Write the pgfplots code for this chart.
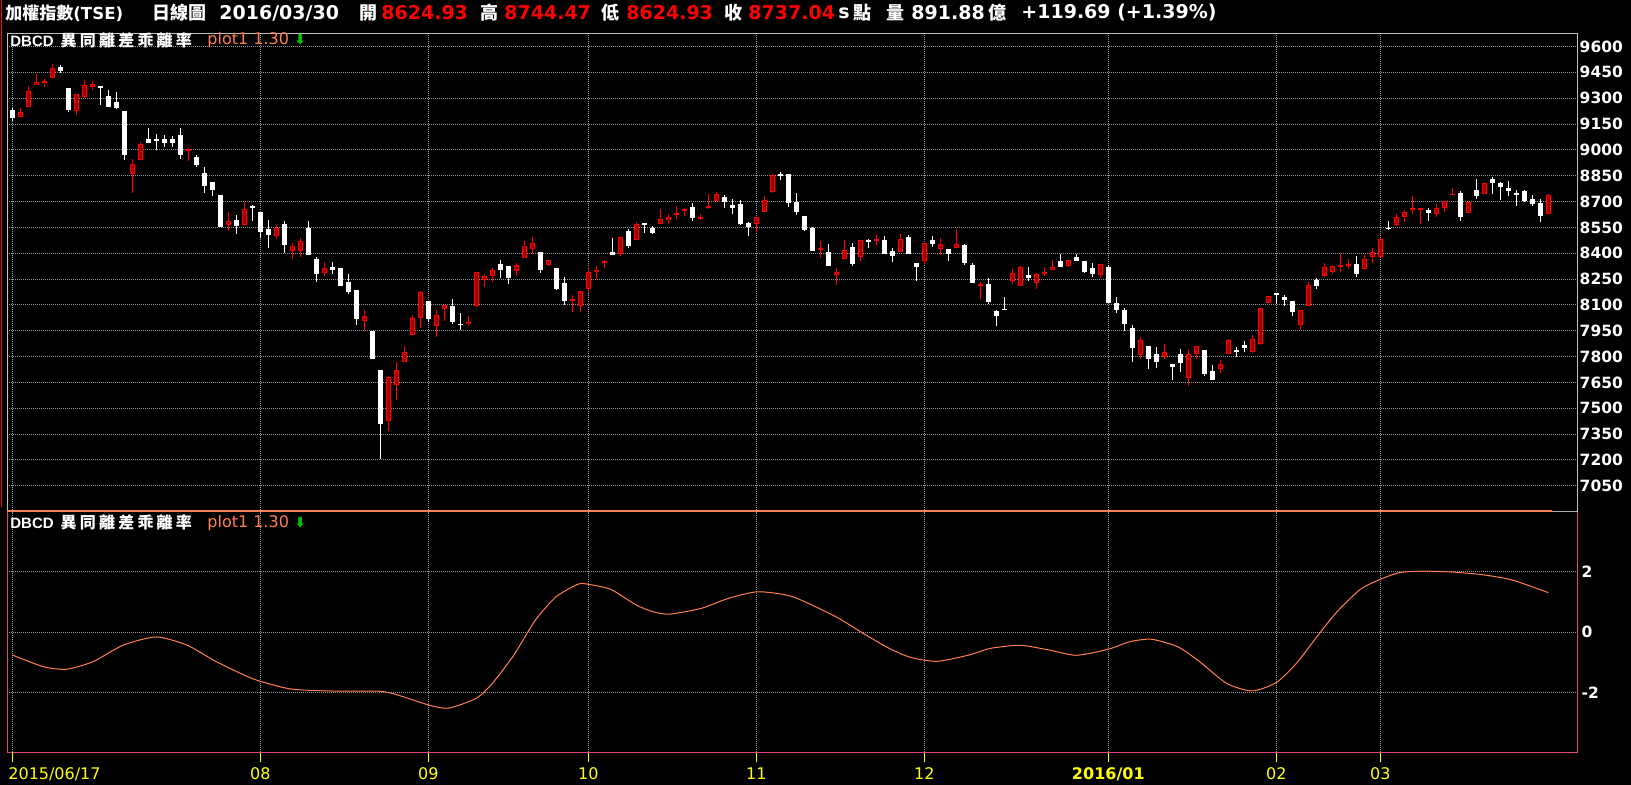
\documentclass[border=0pt]{standalone}
\usepackage{fontspec}
\setmainfont{DejaVu Sans}
\newfontfamily\cjk{Noto Sans CJK TC}
\newfontfamily\cjksp{Noto Sans CJK TC}[LetterSpace=20]
\newfontfamily\libsans{Liberation Sans}
\usepackage{pgfplots}
\usepackage{pgfplotstable}
\pgfplotsset{compat=1.18}
\pgfdeclarelayer{background}
\pgfsetlayers{background,main}
\definecolor{coral}{RGB}{255,127,80}
\definecolor{gridc}{RGB}{150,150,150}
\definecolor{frameg}{RGB}{192,192,192}
\definecolor{framep}{RGB}{225,70,130}
\definecolor{upfill}{RGB}{165,0,0}
\definecolor{upred}{RGB}{255,0,0}
\definecolor{ticky}{RGB}{255,255,0}
\definecolor{arrowg}{RGB}{0,200,0}

\pgfplotstableread{
i O H L C
0 9231 9241 9169 9185
1 9189 9241 9189 9218
2 9247 9369 9247 9340
3 9375 9440 9375 9392
4 9394 9411 9363 9397
5 9415 9498 9415 9473
6 9481 9493 9444 9460
7 9359 9359 9222 9231
8 9224 9326 9204 9324
9 9309 9405 9299 9375
10 9367 9398 9349 9382
11 9369 9369 9260 9357
12 9313 9347 9251 9251
13 9278 9336 9237 9243
14 9225 9225 8943 8972
15 8862 8947 8749 8918
16 8943 9045 8943 9034
17 9063 9127 9042 9042
18 9059 9092 9000 9055
19 9063 9086 9018 9040
20 9063 9080 9018 9040
21 9086 9127 8947 8972
22 8999 9009 8937 9003
23 8958 8970 8898 8914
24 8865 8898 8751 8792
25 8813 8813 8734 8769
26 8738 8738 8554 8554
27 8565 8637 8531 8585
28 8591 8620 8511 8560
29 8565 8697 8565 8655
30 8670 8678 8589 8666
31 8637 8637 8486 8525
32 8540 8593 8432 8507
33 8502 8564 8484 8548
34 8569 8587 8403 8449
35 8411 8457 8368 8445
36 8411 8488 8376 8469
37 8546 8587 8391 8391
38 8366 8376 8235 8281
39 8287 8347 8269 8312
40 8320 8347 8279 8304
41 8312 8312 8211 8211
42 8236 8277 8165 8175
43 8186 8186 7985 8018
44 8008 8070 7950 8033
45 7948 7948 7787 7787
46 7722 7722 7205 7410
47 7427 7679 7369 7679
48 7637 7768 7549 7720
49 7766 7861 7766 7824
50 7923 8041 7923 8024
51 8027 8178 7964 8178
52 8122 8122 7999 8020
53 7976 8072 7911 8039
54 8074 8099 8008 8099
55 8091 8132 7987 8000
56 7991 8056 7954 7985
57 7989 8033 7975 8002
58 8093 8292 8090 8289
59 8244 8277 8207 8269
60 8267 8312 8233 8304
61 8335 8358 8254 8302
62 8324 8327 8219 8254
63 8296 8341 8269 8333
64 8372 8469 8372 8445
65 8424 8492 8393 8461
66 8405 8405 8283 8302
67 8331 8362 8325 8362
68 8312 8312 8184 8190
69 8225 8260 8099 8122
70 8128 8155 8058 8134
71 8093 8182 8058 8182
72 8190 8320 8169 8293
73 8291 8324 8252 8304
74 8347 8362 8314 8351
75 8409 8486 8389 8389
76 8397 8496 8384 8496
77 8527 8540 8430 8440
78 8478 8579 8478 8571
79 8573 8573 8517 8564
80 8544 8556 8511 8517
81 8569 8655 8569 8600
82 8594 8625 8569 8608
83 8628 8672 8597 8633
84 8648 8664 8618 8652
85 8666 8689 8587 8604
86 8602 8629 8591 8606
87 8666 8742 8655 8670
88 8703 8757 8703 8745
89 8724 8736 8662 8697
90 8678 8713 8627 8662
91 8684 8707 8562 8567
92 8577 8583 8500 8552
93 8571 8612 8523 8612
94 8641 8730 8641 8711
95 8755 8862 8747 8856
96 8858 8869 8825 8854
97 8858 8858 8666 8691
98 8699 8747 8622 8639
99 8614 8614 8529 8535
100 8546 8554 8413 8413
101 8424 8469 8372 8428
102 8405 8451 8325 8325
103 8275 8312 8215 8293
104 8366 8474 8366 8420
105 8434 8457 8325 8337
106 8378 8478 8355 8478
107 8472 8484 8432 8470
108 8477 8504 8447 8481
109 8475 8498 8395 8395
110 8411 8428 8349 8384
111 8409 8509 8409 8484
112 8492 8504 8395 8395
113 8342 8342 8239 8321
114 8355 8462 8340 8462
115 8475 8499 8437 8452
116 8425 8487 8390 8456
117 8423 8423 8355 8396
118 8433 8539 8433 8456
119 8446 8456 8333 8342
120 8330 8346 8228 8228
121 8212 8232 8135 8222
122 8220 8254 8106 8117
123 8063 8070 7979 8036
124 8075 8145 8073 8073
125 8241 8306 8219 8283
126 8210 8325 8208 8323
127 8274 8319 8237 8255
128 8228 8288 8193 8282
129 8280 8319 8265 8294
130 8300 8359 8300 8319
131 8354 8396 8321 8321
132 8328 8363 8321 8363
133 8377 8396 8356 8356
134 8354 8354 8286 8290
135 8313 8342 8263 8280
136 8276 8340 8255 8340
137 8319 8332 8110 8110
138 8110 8145 8054 8071
139 8069 8081 7951 7990
140 7965 7983 7770 7850
141 7811 7913 7785 7896
142 7861 7861 7727 7785
143 7815 7855 7735 7768
144 7799 7873 7785 7826
145 7756 7756 7664 7739
146 7815 7844 7710 7762
147 7677 7838 7629 7813
148 7817 7859 7785 7859
149 7838 7838 7687 7698
150 7716 7751 7664 7664
151 7727 7780 7706 7760
152 7817 7902 7817 7896
153 7836 7855 7799 7834
154 7867 7890 7826 7849
155 7828 7924 7822 7905
156 7874 8080 7870 8080
157 8109 8149 8109 8149
158 8164 8171 8110 8162
159 8144 8157 8091 8130
160 8122 8122 8036 8060
161 7981 8072 7956 8068
162 8091 8231 8091 8213
163 8244 8256 8194 8211
164 8265 8341 8265 8318
165 8294 8324 8281 8324
166 8318 8399 8293 8329
167 8331 8366 8308 8336
168 8335 8382 8264 8281
169 8306 8387 8306 8364
170 8378 8432 8341 8409
171 8378 8490 8378 8484
172 8546 8585 8533 8544
173 8564 8629 8558 8612
174 8612 8653 8581 8641
175 8656 8730 8625 8660
176 8653 8664 8571 8664
177 8649 8660 8585 8631
178 8627 8684 8610 8660
179 8662 8705 8637 8705
180 8740 8776 8738 8744
181 8747 8759 8587 8610
182 8633 8699 8633 8699
183 8765 8829 8715 8730
184 8744 8809 8744 8809
185 8829 8842 8742 8805
186 8805 8815 8709 8782
187 8778 8817 8730 8759
188 8746 8765 8674 8742
189 8759 8765 8697 8701
190 8713 8736 8674 8685
191 8689 8713 8579 8616
192 8624.93 8744.47 8624.93 8737.04
}\candles

\pgfplotstableread{
i v
0 -0.75
3.9 -1.14
6.8 -1.22
10.1 -0.97
13.9 -0.42
18 -0.155
21.8 -0.42
25.5 -0.97
30.1 -1.54
34.7 -1.87
39.7 -1.94
46 -1.95
48.5 -2.1
52 -2.40
54.5 -2.51
58 -2.18
60 -1.69
62.7 -0.75
65.4 0.41
68 1.18
70.7 1.59
71.7 1.60
74.8 1.42
78 0.90
80.1 0.68
82.1 0.60
86.1 0.79
89.5 1.12
93.2 1.34
97.5 1.18
102.9 0.52
106.2 -0.01
109.6 -0.53
112.3 -0.83
115.6 -0.96
119.6 -0.75
122.3 -0.53
126 -0.43
129.7 -0.59
133 -0.76
137 -0.56
139.7 -0.31
142.4 -0.23
145.7 -0.48
148.4 -0.97
151.8 -1.69
155 -1.94
158 -1.66
160.5 -1.03
163.5 0
165.6 0.68
168.5 1.42
171 1.75
173.5 1.98
176.8 2.02
180.1 1.99
183.9 1.90
187.6 1.72
192 1.31
}\dbcd

\pgfplotsset{
  candlebase/.style={draw=none, mark=none, forget plot},
  gridsty/.style={draw=gridc, line width=0.5pt, dash pattern=on 0.5pt off 0.5pt},
}

\begin{document}
\begin{tikzpicture}
% ---------- lower panel ----------
\begin{axis}[
  name=lower, at={(0pt,0pt)}, anchor=south west,
  width=785pt, height=120.3pt, scale only axis,
  xmin=-0.625, xmax=195.625, ymin=-3.967, ymax=3.987,
  axis line style={draw=framep, line width=0.5pt},
  xtick={31,52,72,93,114,137,158,171},
  xticklabels={08,09,10,11,12,\textbf{2016/01},02,03},
  extra x ticks={0}, extra x tick labels={2015/06/17},
  extra x tick style={xticklabel style={anchor=north west, xshift=-2.15pt}},
  xtick pos=bottom, tick align=outside, major tick length=5pt,
  xtick style={draw=ticky, line width=0.5pt},
  ytick={-2,0,2}, yticklabels={-2,0,2},
  ytick pos=right, yticklabel pos=right,
  ytick style={draw=none},
  grid=major, grid style={gridsty},
  xticklabel style={anchor=north, inner sep=0pt, yshift=-2.4pt, text=ticky, font=\fontsize{8}{9}\selectfont},
  yticklabel style={anchor=west, inner sep=0pt, xshift=-3pt, text=white, font=\bfseries\fontsize{7.75}{8}\selectfont},
]
\addplot[coral, line width=0.5pt, smooth, tension=0.4] table[x=i, y=v]{\dbcd};
\end{axis}

% ---------- upper panel ----------
\begin{axis}[
  name=upper, at={([yshift=2.1pt]lower.north west)}, anchor=south west,
  width=785pt, height=239.1pt, scale only axis,
  xmin=-0.625, xmax=195.625, ymin=6900, ymax=9675.4,
  axis line style={draw=frameg, line width=0.5pt},
  xtick={0,31,52,72,93,114,137,158,171}, xticklabels={},
  xticklabel style={inner sep=0pt},
  ytick={7050,7200,7350,7500,7650,7800,7950,8100,8250,8400,8550,8700,8850,9000,9150,9300,9450,9600},
  yticklabels={7050,7200,7350,7500,7650,7800,7950,8100,8250,8400,8550,8700,8850,9000,9150,9300,9450,9600},
  extra y ticks={6900}, extra y tick labels={},
  ytick pos=right, yticklabel pos=right,
  major tick length=0pt,
  grid=major, grid style={gridsty},
  yticklabel style={anchor=west, inner sep=0pt, xshift=1pt, text=white, font=\bfseries\fontsize{7.75}{8}\selectfont},
]
% down candles (white)
\addplot[candlebase, restrict expr to domain={\thisrow{O}-\thisrow{C}}{0.001:100000},
  error bars/.cd, y dir=both, y explicit, error mark=none,
  error bar style={draw=white, line width=0.5pt}]
  table[x=i, y expr={(\thisrow{H}+\thisrow{L})/2}, y error expr={(\thisrow{H}-\thisrow{L})/2}]{\candles};
\addplot[candlebase, restrict expr to domain={\thisrow{O}-\thisrow{C}}{0.001:100000},
  error bars/.cd, y dir=both, y explicit, error mark=none,
  error bar style={draw=white, line width=2.5pt}]
  table[x=i, y expr={(\thisrow{O}+\thisrow{C})/2}, y error expr={max(abs(\thisrow{O}-\thisrow{C})/2,4)}]{\candles};
% up candles (red)
\addplot[candlebase, restrict expr to domain={\thisrow{C}-\thisrow{O}}{0:100000},
  error bars/.cd, y dir=both, y explicit, error mark=none,
  error bar style={draw=upred, line width=0.5pt}]
  table[x=i, y expr={(\thisrow{H}+\thisrow{L})/2}, y error expr={(\thisrow{H}-\thisrow{L})/2}]{\candles};
\addplot[candlebase, restrict expr to domain={\thisrow{C}-\thisrow{O}}{0:100000},
  error bars/.cd, y dir=both, y explicit, error mark=none,
  error bar style={draw=upred, line width=2.5pt}]
  table[x=i, y expr={(\thisrow{O}+\thisrow{C})/2}, y error expr={max(abs(\thisrow{O}-\thisrow{C})/2,4)}]{\candles};
\addplot[candlebase, restrict expr to domain={\thisrow{C}-\thisrow{O}}{0:100000},
  error bars/.cd, y dir=both, y explicit, error mark=none,
  error bar style={draw=upfill, line width=1.5pt}]
  table[x=i, y expr={(\thisrow{O}+\thisrow{C})/2}, y error expr={max(abs(\thisrow{O}-\thisrow{C})/2-5.8,0)}]{\candles};
% indicator trace at panel bottom
\addplot[coral, line width=1pt, forget plot] coordinates {(-0.625,6905) (192.4,6905)};
\end{axis}

\coordinate (O) at ([xshift=-3.65pt,yshift=-16.35pt]lower.south west);

\begin{scope}[shift={(O)}]
\begin{pgfonlayer}{background}
\fill[black] (0pt,0pt) rectangle (815.5pt,392.5pt);
\end{pgfonlayer}
\draw[upred, line width=0.5pt] (1pt,392.5pt) -- (1pt,138.75pt);

% ---------- title row ----------
\begin{scope}[every node/.style={anchor=west, inner sep=0pt, text=white, font=\bfseries\fontsize{9.5}{11}\selectfont}]
\node at (2.5pt,386pt) {{\cjk\bfseries\fontsize{8.5}{11}\selectfont 加權指數}{\fontsize{8.3}{11}\selectfont(TSE)}};
\node at (76pt,386pt) {\cjk\bfseries\fontsize{9}{11}\selectfont 日線圖};
\node at (109.5pt,386pt) {2016/03/30};
\node at (179.5pt,386pt) {\cjk\bfseries\fontsize{9}{11}\selectfont 開};
\node[text=upred] at (190.5pt,386pt) {8624.93};
\node at (240pt,386pt) {\cjk\bfseries\fontsize{9}{11}\selectfont 高};
\node[text=upred] at (252pt,386pt) {8744.47};
\node at (300.5pt,386pt) {\cjk\bfseries\fontsize{9}{11}\selectfont 低};
\node[text=upred] at (313pt,386pt) {8624.93};
\node at (362pt,386pt) {\cjk\bfseries\fontsize{9}{11}\selectfont 收};
\node[text=upred] at (374pt,386pt) {8737.04};
\node at (419pt,386pt) {s};
\node at (426.5pt,386pt) {\cjk\bfseries\fontsize{9}{11}\selectfont 點};
\node at (443pt,386pt) {\cjk\bfseries\fontsize{9}{11}\selectfont 量};
\node at (455.5pt,386pt) {891.88};
\node at (494pt,386pt) {\cjk\bfseries\fontsize{9}{11}\selectfont 億};
\node at (510.5pt,386pt) {+119.69 (+1.39\%)};
\end{scope}

% ---------- panel captions ----------
\foreach \yy in {372.5pt,131.15pt}{
\node[anchor=west, inner sep=0pt, text=white] at (5pt,\yy)
  {{\libsans\bfseries\fontsize{7.5}{8}\selectfont DBCD}\hspace{3.5pt}{\cjksp\bfseries\fontsize{8}{10}\selectfont 異同離差乖離率}};
\node[anchor=west, inner sep=0pt, text=coral, font=\fontsize{8}{9}\selectfont] at (103.5pt,\yy) {plot1 1.30};
\node[anchor=west, inner sep=0pt, text=arrowg, font=\bfseries\fontsize{7}{8}\selectfont] at (147pt,\yy) {⬇};
}

\pgfresetboundingbox
\useasboundingbox (0pt,0pt) rectangle (815.5pt,392.5pt);
\end{scope}
\end{tikzpicture}
\end{document}
